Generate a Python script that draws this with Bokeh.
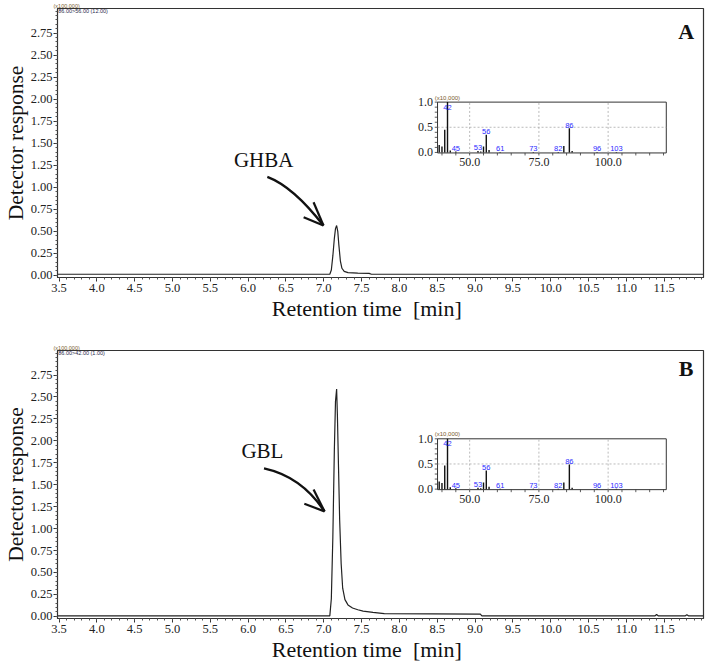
from bokeh.plotting import figure
from bokeh.models import Range1d, FixedTicker, PrintfTickFormatter, Label
from bokeh.layouts import column
from bokeh.embed import file_html
from bokeh.resources import INLINE
from bokeh.core.properties import value

# ---------------- chromatogram data ----------------
time_a = [3.48, 7.08, 7.10, 7.12, 7.14, 7.155, 7.17, 7.185, 7.20, 7.22, 7.24, 7.27,
          7.32, 7.45, 7.60, 7.63, 12.02]
resp_a = [0.012, 0.012, 0.06, 0.22, 0.42, 0.53, 0.565, 0.50, 0.34, 0.16, 0.08, 0.045,
          0.03, 0.025, 0.022, 0.012, 0.012]

time_b = [3.48, 7.08, 7.10, 7.12, 7.14, 7.155, 7.17, 7.18, 7.195, 7.21, 7.23, 7.25,
          7.28, 7.32, 7.38, 7.45, 7.52, 7.65, 7.80, 9.07, 9.09, 11.38, 11.40, 11.42,
          11.78, 11.80, 11.82, 12.02]
resp_b = [0.005, 0.005, 0.2, 0.9, 1.9, 2.45, 2.59, 2.3, 1.7, 1.1, 0.6, 0.32,
          0.19, 0.13, 0.095, 0.075, 0.06, 0.045, 0.03, 0.025, 0.006, 0.006, 0.02, 0.006,
          0.006, 0.018, 0.006, 0.006]

x_ticks = [3.5, 4.0, 4.5, 5.0, 5.5, 6.0, 6.5, 7.0, 7.5, 8.0, 8.5, 9.0, 9.5, 10.0,
           10.5, 11.0, 11.5]
y_ticks = [0.00, 0.25, 0.50, 0.75, 1.00, 1.25, 1.50, 1.75, 2.00, 2.25, 2.50, 2.75]

# ---------------- mass spectrum (inset) data ----------------
mz = [39, 40, 41, 42, 43, 45, 53, 54, 55, 56, 57, 61, 73, 82, 84, 86, 87, 96, 103]
int_a = [0.15, 0.12, 0.45, 1.00, 0.04, 0.02, 0.03, 0.02, 0.12, 0.35, 0.05, 0.01,
         0.01, 0.01, 0.13, 0.48, 0.03, 0.01, 0.01]
int_b = [0.15, 0.12, 0.47, 1.00, 0.04, 0.02, 0.03, 0.02, 0.13, 0.37, 0.05, 0.01,
         0.01, 0.01, 0.13, 0.49, 0.03, 0.01, 0.01]
mz_labeled = [42, 45, 53, 56, 61, 73, 82, 86, 96, 103]
inset_x_ticks = [50.0, 75.0, 100.0]
inset_y_ticks = [0.0, 0.5, 1.0]

SERIF = "Liberation Serif"
SANS = "Liberation Sans"
INK = "#222222"
NB = "\u00a0"


def inset_range(lo, hi, f0, f1):
    """Range over the whole frame so that [lo, hi] lands on frame fractions [f0, f1]."""
    span = (hi - lo) / (f1 - f0)
    start = lo - f0 * span
    return Range1d(start, start + span)


def make_panel(height, border_top, border_bottom, t, v, intens, inset_fy,
               tag, tag_y, compound, text_pos, arrow, header_y, header_text):
    p = figure(width=708, height=height, x_range=Range1d(3.48, 12.02),
               y_range=Range1d(-0.025, 3.03), output_backend="svg",
               toolbar_location=None, min_border_left=52, min_border_right=5,
               min_border_top=border_top, min_border_bottom=border_bottom)
    p.grid.visible = False
    p.outline_line_color = "#333333"
    p.outline_line_width = 1.2

    # scale factor header above the frame
    p.title.text = "(x100,000)"
    p.title.text_font = SANS
    p.title.text_font_size = "5.5px"
    p.title.text_font_style = "normal"
    p.title.text_color = "#7a5c2e"
    p.title.align = "left"
    p.title.offset = -4
    p.title.standoff = 0

    minor_x = [round(3.5 + 0.1 * i, 2) for i in range(86)]
    minor_y = [round(0.05 * i, 2) for i in range(61)]
    p.xaxis.ticker = FixedTicker(ticks=x_ticks, minor_ticks=minor_x)
    p.yaxis.ticker = FixedTicker(ticks=y_ticks, minor_ticks=minor_y)
    p.xaxis.formatter = PrintfTickFormatter(format="%.1f")
    p.yaxis.formatter = PrintfTickFormatter(format="%.2f")
    for ax in (p.xaxis, p.yaxis):
        ax.axis_line_color = "#333333"
        ax.major_tick_line_color = "#333333"
        ax.minor_tick_line_color = "#555555"
        ax.major_tick_in = 0
        ax.major_tick_out = 4
        ax.minor_tick_in = 0
        ax.minor_tick_out = 2
        ax.major_label_text_font = SERIF
        ax.major_label_text_font_size = "12.5px"
        ax.major_label_text_color = INK
        ax.major_label_standoff = 2
        ax.axis_label_text_font = SERIF
        ax.axis_label_text_font_style = "normal"
        ax.axis_label_text_color = "#111111"
    p.xaxis.axis_label_text_font_size = "22px"
    p.xaxis.axis_label_standoff = 1
    p.yaxis.axis_label_text_font_size = "21.5px"
    p.yaxis.axis_label_standoff = 0
    p.yaxis.major_label_standoff = 1
    p.xaxis.axis_label = "Retention time" + NB + NB + "[min]" + NB * 5
    p.yaxis.axis_label = "Detector response"

    # chromatogram trace
    p.line(t, v, line_color=INK, line_width=1.2)

    # compound name and curved arrow
    p.text(x=[text_pos[0]], y=[text_pos[1]], text=[compound],
           text_font=value(SERIF), text_font_size="21px", text_align="center",
           text_baseline="middle", text_color="#111111")
    (x0, y0), (cx, cy), (x1, y1), (bx1, by1), (bx2, by2) = arrow
    p.quadratic(x0=[x0], y0=[y0], x1=[x1], y1=[y1], cx=[cx], cy=[cy],
                line_color="#111111", line_width=2.4)
    p.segment(x0=[x1, x1], y0=[y1, y1], x1=[bx1, bx2], y1=[by1, by2],
              line_color="#111111", line_width=2.2)

    # panel tag
    p.add_layout(Label(x=11.79, y=tag_y, text=tag, text_font=SERIF,
                       text_font_style="bold", text_font_size="22px",
                       text_align="center", text_baseline="middle",
                       text_color="#111111"))

    # transition header inside the frame
    p.add_layout(Label(x=3.49, y=header_y, text=header_text, text_font=SANS,
                       text_font_size="5.5px", text_align="left",
                       text_baseline="middle", text_color="#2b2b4b"))

    # ---------- inset mass spectrum ----------
    ilo, ihi = 38.4, 121.0
    jlo, jhi = -0.01, 1.0
    p.extra_x_ranges = {"ix": inset_range(ilo, ihi, 0.5883, 0.9424)}
    p.extra_y_ranges = {"iy": inset_range(jlo, jhi, inset_fy[0], inset_fy[1])}
    kw = dict(x_range_name="ix", y_range_name="iy")

    p.quad(left=[ilo], right=[ihi], bottom=[jlo], top=[jhi], fill_color="white",
           line_color="#333333", line_width=1, **kw)
    p.segment(x0=inset_x_ticks, y0=[jlo] * 3, x1=inset_x_ticks, y1=[jhi] * 3,
              line_color="#aaaaaa", line_dash="2 2", line_width=0.8, **kw)
    p.segment(x0=[ilo], y0=[0.5], x1=[ihi], y1=[0.5],
              line_color="#aaaaaa", line_dash="2 2", line_width=0.8, **kw)
    # inset ticks
    tick_y = [round(0.1 * i, 1) for i in range(11)]
    p.segment(x0=[ilo] * 11, y0=tick_y, x1=[ilo - 1.0] * 11, y1=tick_y,
              line_color="#333333", line_width=0.8, **kw)
    tick_x = [40 + 5 * i for i in range(17)]
    p.segment(x0=tick_x, y0=[jlo] * 17, x1=tick_x, y1=[jlo - 0.05] * 17,
              line_color="#333333", line_width=0.8, **kw)

    # spectrum sticks
    p.segment(x0=mz, y0=[0] * len(mz), x1=mz, y1=intens,
              line_color="#111111", line_width=1.4, **kw)
    lab_y = [min(intens[mz.index(m)] + 0.06, 0.9) for m in mz_labeled]
    p.text(x=mz_labeled, y=lab_y, text=[str(m) for m in mz_labeled],
           text_font=value(SANS), text_font_size="7.5px", text_align="center",
           text_baseline="middle", text_color="#2a2aff", **kw)

    # inset axis labels
    p.text(x=[ilo - 1.6] * 3, y=inset_y_ticks, text=["%.1f" % s for s in inset_y_ticks],
           text_font=value(SERIF), text_font_size="12px", text_align="right",
           text_baseline="middle", text_color=INK, **kw)
    p.text(x=inset_x_ticks, y=[-0.19] * 3, text=["%.1f" % s for s in inset_x_ticks],
           text_font=value(SERIF), text_font_size="12px", text_align="center",
           text_baseline="middle", text_color=INK, **kw)
    p.text(x=[ilo - 1.0], y=[jhi + 0.09], text=["(x10,000)"],
           text_font=value(SANS), text_font_size="6px", text_align="left",
           text_baseline="middle", text_color="#7a5c2e", **kw)
    return p


pa = make_panel(
    335, 7, 58, time_a, resp_a, int_a, (0.463, 0.652),
    "A", 2.77, "GHBA", (6.206, 1.311),
    [(6.254, 1.119), (6.599, 1.006), (6.996, 0.565), (6.865, 0.829), (6.734, 0.66)],
    2.996, "86.00>56.00 (12.00)")

pb = make_panel(
    329, 15, 43, time_b, resp_b, int_b, (0.4808, 0.6705),
    "B", 2.82, "GBL", (6.189, 1.882),
    [(6.21, 1.687), (6.708, 1.593), (7.01, 1.196), (6.865, 1.445), (6.743, 1.283)],
    2.998, "86.00>42.00 (1.00)")

layout = column(pa, pb, spacing=0)
open("out.html", "w").write(file_html(layout, INLINE))
